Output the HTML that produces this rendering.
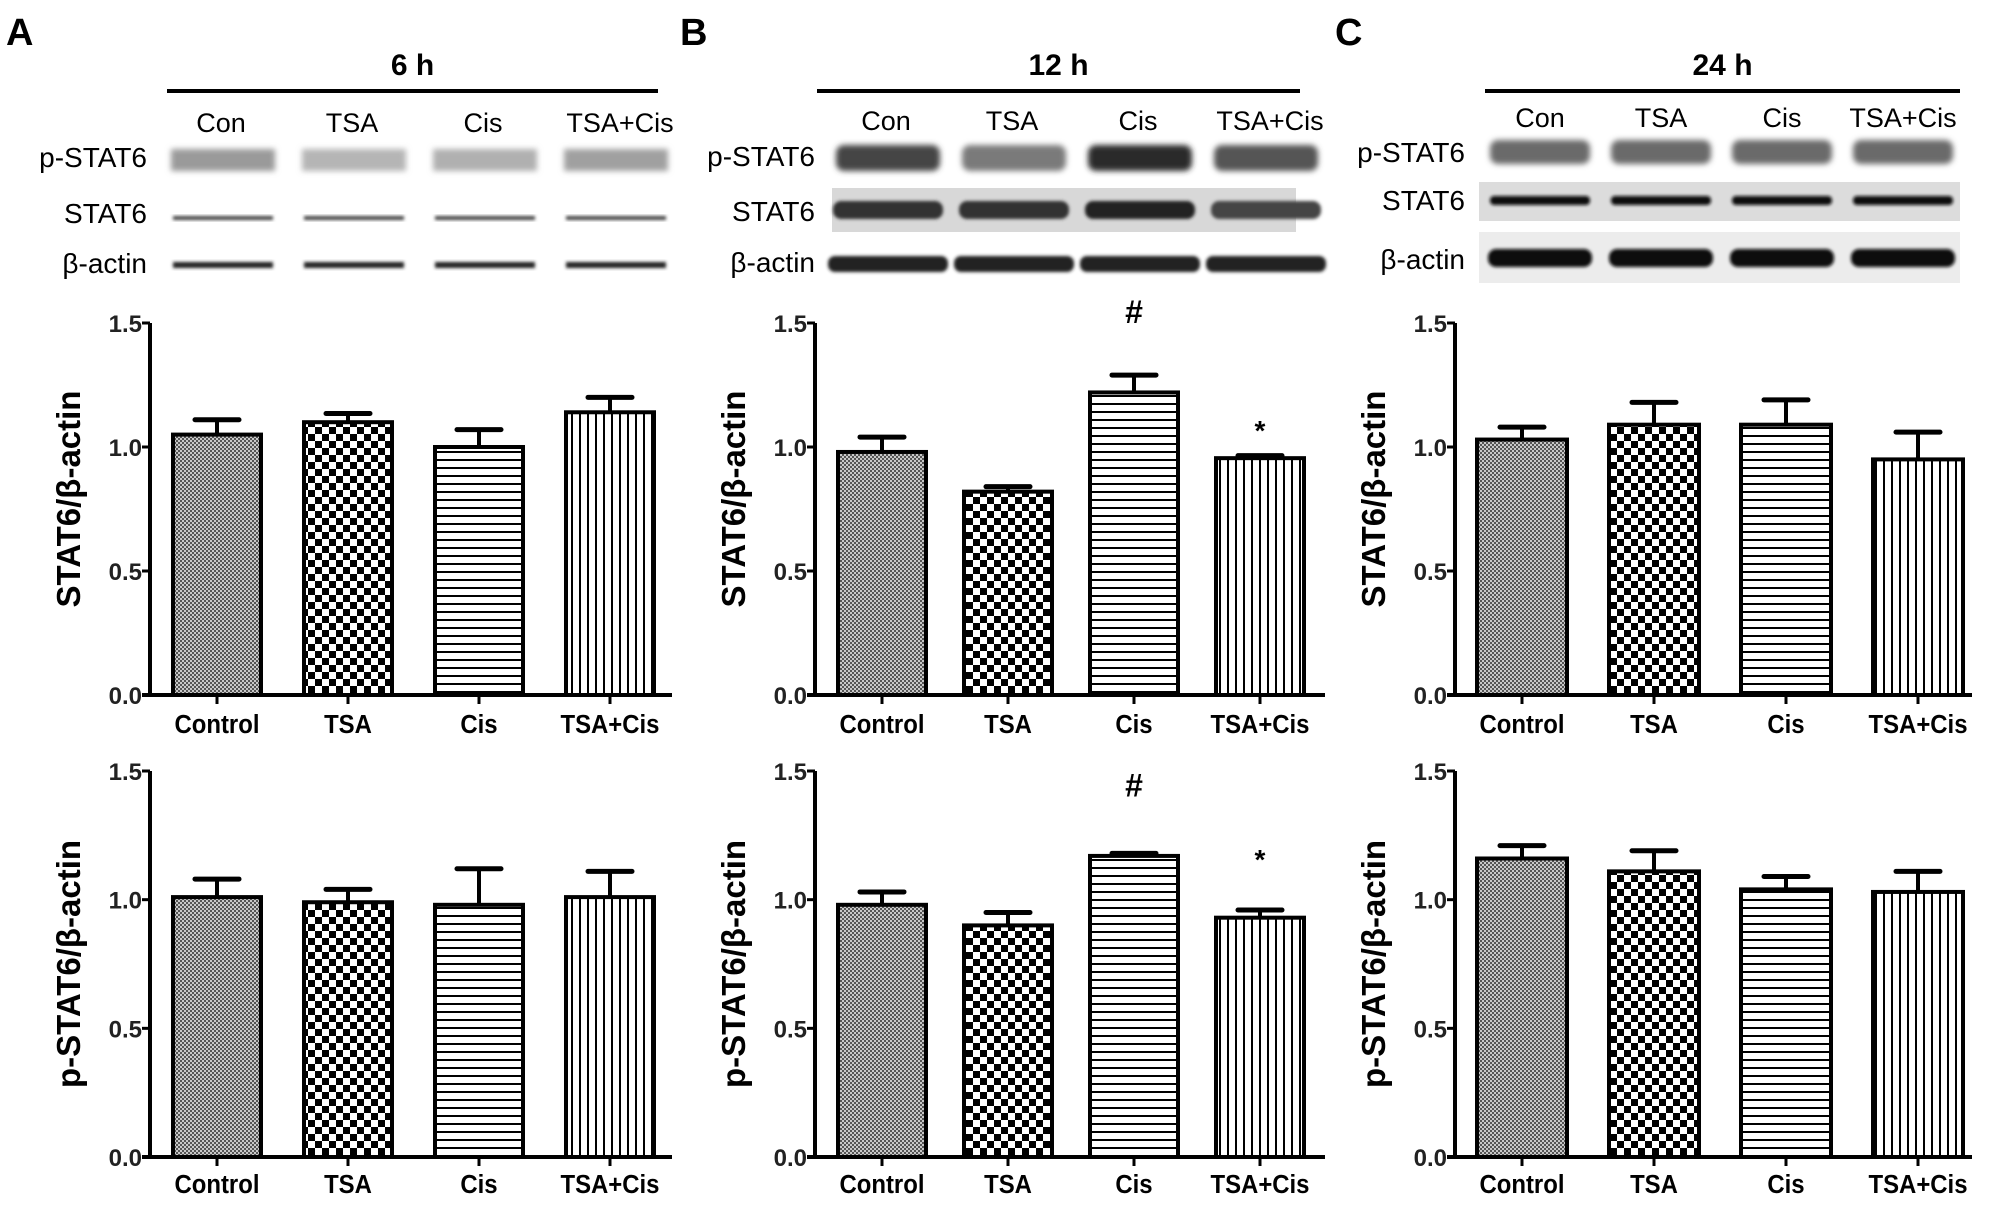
<!DOCTYPE html>
<html><head><meta charset="utf-8"><style>
html,body{margin:0;padding:0;background:#fff;}
svg{display:block;font-family:"Liberation Sans",Arial,sans-serif;}
</style></head>
<body>
<svg id="fig" width="2008" height="1208" viewBox="0 0 2008 1208" xmlns="http://www.w3.org/2000/svg">
<defs>
<pattern id="pFine" width="4" height="4" patternUnits="userSpaceOnUse"><rect width="4" height="4" fill="#c8c8c8"/><rect width="2" height="2" fill="#555"/><rect x="2" y="2" width="2" height="2" fill="#555"/></pattern>
<pattern id="pCheck" width="14" height="14" patternUnits="userSpaceOnUse"><rect width="14" height="14" fill="#fff"/><rect width="7" height="7" fill="#000"/><rect x="7" y="7" width="7" height="7" fill="#000"/></pattern>
<pattern id="pHoriz" width="8" height="8" patternUnits="userSpaceOnUse"><rect width="8" height="8" fill="#fff"/><rect y="3" width="8" height="2" fill="#000"/></pattern>
<pattern id="pVert" width="8" height="8" patternUnits="userSpaceOnUse"><rect width="8" height="8" fill="#fff"/><rect x="3" width="2" height="8" fill="#000"/></pattern>
<filter id="blur" x="-20%" y="-50%" width="140%" height="200%"><feGaussianBlur stdDeviation="3"/></filter>
<filter id="blur2" x="-20%" y="-50%" width="140%" height="200%"><feGaussianBlur stdDeviation="1.5"/></filter>
</defs>
<g id="root"></g>
</svg>
<script>
// ---- data ----
const categories = ["Control","TSA","Cis","TSA+Cis"];
const laneLabels = ["Con","TSA","Cis","TSA+Cis"];
const yTicks = [0.0,0.5,1.0,1.5];
const yTickLabels = ["0.0","0.5","1.0","1.5"];
const timeLabels = ["6 h","12 h","24 h"];
const panelLetters = ["A","B","C"];
// STAT6/β-actin (top charts)
const stat6A = [1.05,1.10,1.00,1.14];
const stat6AErr = [0.06,0.035,0.07,0.06];
const stat6B = [0.98,0.82,1.22,0.955];
const stat6BErr = [0.06,0.02,0.07,0.01];
const stat6C = [1.03,1.09,1.09,0.95];
const stat6CErr = [0.05,0.09,0.10,0.11];
// p-STAT6/β-actin (bottom charts)
const pstat6A = [1.01,0.99,0.98,1.01];
const pstat6AErr = [0.07,0.05,0.14,0.10];
const pstat6B = [0.98,0.90,1.17,0.93];
const pstat6BErr = [0.05,0.05,0.01,0.03];
const pstat6C = [1.16,1.11,1.04,1.03];
const pstat6CErr = [0.05,0.08,0.05,0.08];
// significance marks: [panel, chart, category index, label, value height]
const sigMarks = [[1,0,2,"#",1.50],[1,0,3,"*",1.10],[1,1,2,"#",1.40],[1,1,3,"*",1.19]];

const NS="http://www.w3.org/2000/svg";
const root=document.getElementById('root');
function mk(tag,attrs,parent,text){const e=document.createElementNS(NS,tag);for(const k in attrs)e.setAttribute(k,attrs[k]);if(text!==undefined)e.textContent=text;(parent||root).appendChild(e);return e;}

const axisX=[150,815,1455];
const spacing=[131,126,132];
const barW=[88,88,90];
const axisEnd=[672,1325,1972];
const fills=["url(#pFine)","url(#pCheck)","url(#pHoriz)","url(#pVert)"];
const charts=[{top:323,bottom:695,title:"STAT6/β-actin",labY:733},{top:771,bottom:1157,title:"p-STAT6/β-actin",labY:1193}];
const values=[[stat6A,pstat6A],[stat6B,pstat6B],[stat6C,pstat6C]];
const errs=[[stat6AErr,pstat6AErr],[stat6BErr,pstat6BErr],[stat6CErr,pstat6CErr]];

function xPos(p,i){return axisX[p]+67+spacing[p]*i;}
function laneX(p,i){return p==2 ? 1540+121*i : xPos(p,i)+6;}
function yPos(c,v){const ch=charts[c];return ch.bottom-(v/1.5)*(ch.bottom-ch.top);}

for(let p=0;p<3;p++){
  const ax=axisX[p];
  const g=mk('g',{});
  
  
  const L=mk('text',{x:[6,680,1335][p],y:45,'font-size':38,'font-weight':'bold'},g,panelLetters[p]);
  
  const hx0=[167,817,1485][p], hx1=[658,1300,1960][p];
  const t=mk('text',{x:(hx0+hx1)/2,y:75,'font-size':30,'font-weight':'bold','text-anchor':'middle'},g,timeLabels[p]);
  
  const hl=mk('line',{x1:hx0,x2:hx1,y1:91,y2:91,stroke:'#000','stroke-width':4},g);
  
  for(let i=0;i<4;i++){
    const lx=laneX(p,i)+(p<2&&i==3?6:0)-(p<2?2:0);
    const lt=mk('text',{x:lx,y:[132,130,127][p],'font-size':27,'text-anchor':'middle'},g,laneLabels[i]);
    
  }
  const lr=[147,815,1465][p];
  const rowsY=[[167,223,273],[166,221,272],[162,210,269]][p];
  ["p-STAT6","STAT6","β-actin"].forEach((s,k)=>{
    const bt=mk('text',{x:lr,y:rowsY[k],'font-size':28,'text-anchor':'end'},g,s);
    
  });
  const blot=mk('g',{},g);
  
  if(p==0){
    for(let i=0;i<4;i++){const cx=laneX(p,i);
      mk('rect',{x:cx-52,y:149,width:104,height:22,fill:['#9a9a9a','#b5b5b5','#b0b0b0','#a0a0a0'][i],filter:'url(#blur)'},blot);
      mk('rect',{x:cx-50,y:216,width:100,height:4,fill:'#444',filter:'url(#blur2)'},blot);
      mk('rect',{x:cx-50,y:262,width:100,height:6,fill:'#222',filter:'url(#blur2)'},blot);
    }
  } else if(p==1){
    mk('rect',{x:832,y:188,width:464,height:44,fill:'#d8d8d8'},blot);
    for(let i=0;i<4;i++){const cx=laneX(p,i);
      mk('rect',{x:cx-52,y:145,width:104,height:26,rx:8,fill:['#444','#7a7a7a','#2a2a2a','#555'][i],filter:'url(#blur)'},blot);
      mk('rect',{x:cx-55,y:201,width:110,height:18,rx:8,fill:['#333','#333','#222','#444'][i],filter:'url(#blur2)'},blot);
      mk('rect',{x:cx-60,y:256,width:120,height:16,rx:7,fill:'#222',filter:'url(#blur2)'},blot);
    }
  } else {
    mk('rect',{x:1479,y:182,width:481,height:39,fill:'#dcdcdc'},blot);
    mk('rect',{x:1479,y:232,width:481,height:51,fill:'#ececec'},blot);
    for(let i=0;i<4;i++){const cx=laneX(p,i);
      mk('rect',{x:cx-50,y:140,width:100,height:24,rx:8,fill:'#6a6a6a',filter:'url(#blur)'},blot);
      mk('rect',{x:cx-50,y:196,width:100,height:9,rx:4,fill:'#111',filter:'url(#blur2)'},blot);
      mk('rect',{x:cx-52,y:249,width:104,height:18,rx:8,fill:'#0a0a0a',filter:'url(#blur2)'},blot);
    }
  }
  for(let c=0;c<2;c++){
    const ch=charts[c];
    const cg=mk('g',{},g);
    
    
    const vals=values[p][c], er=errs[p][c], bw=barW[p];
    for(let i=0;i<4;i++){
      const x=xPos(p,i), y=yPos(c,vals[i]), ye=yPos(c,vals[i]+er[i]);
      const el=mk('line',{x1:x,x2:x,y1:ye,y2:y,stroke:'#000','stroke-width':4},cg);
      
      const cap=mk('line',{x1:x-22,x2:x+22,y1:ye,y2:ye,stroke:'#000','stroke-width':5,'stroke-linecap':'round'},cg);
      
      const b=mk('rect',{x:x-bw/2,y:y,width:bw,height:ch.bottom-y,fill:fills[i],stroke:'#000','stroke-width':4},cg);
      
      
      const tk=mk('line',{x1:x,x2:x,y1:ch.bottom,y2:ch.bottom+9,stroke:'#000','stroke-width':3},cg);
      
      const xl=mk('text',{x:x,y:ch.labY,'font-size':26,'font-weight':'bold','text-anchor':'middle',transform:`translate(${x} 0) scale(0.92 1) translate(${-x} 0)`},cg,categories[i]);
      
    }
    const ya=mk('line',{x1:ax,x2:ax,y1:ch.top,y2:ch.bottom,stroke:'#000','stroke-width':4},cg);
    
    const xa=mk('line',{x1:ax-8,x2:axisEnd[p],y1:ch.bottom,y2:ch.bottom,stroke:'#000','stroke-width':4},cg);
    
    yTicks.forEach((v,k)=>{
      const yy=yPos(c,v);
      const tk=mk('line',{x1:ax-8,x2:ax,y1:yy,y2:yy,stroke:'#000','stroke-width':3},cg);
      
      const tl=mk('text',{x:ax-8,y:yy+9,'font-size':24,'font-weight':'bold','text-anchor':'end',fill:'#222'},cg,yTickLabels[k]);
      
    });
    const cy=(ch.top+ch.bottom)/2+(c==0?-10:0), tx=ax-70;
    const yt=mk('text',{x:tx,y:cy,'font-size':33,'font-weight':'bold','text-anchor':'middle',transform:`rotate(-90 ${tx} ${cy})`},cg,ch.title);
    
  }
}
sigMarks.forEach(m=>{
  const [p,c,i,s,v]=m;
  const st=mk('text',{x:xPos(p,i),y:yPos(c,v)+(s=="*"?18:0),'font-size':s=="#"?32:28,'font-weight':'bold','text-anchor':'middle'},root,s);
  
  
});
</script>
</body></html>
